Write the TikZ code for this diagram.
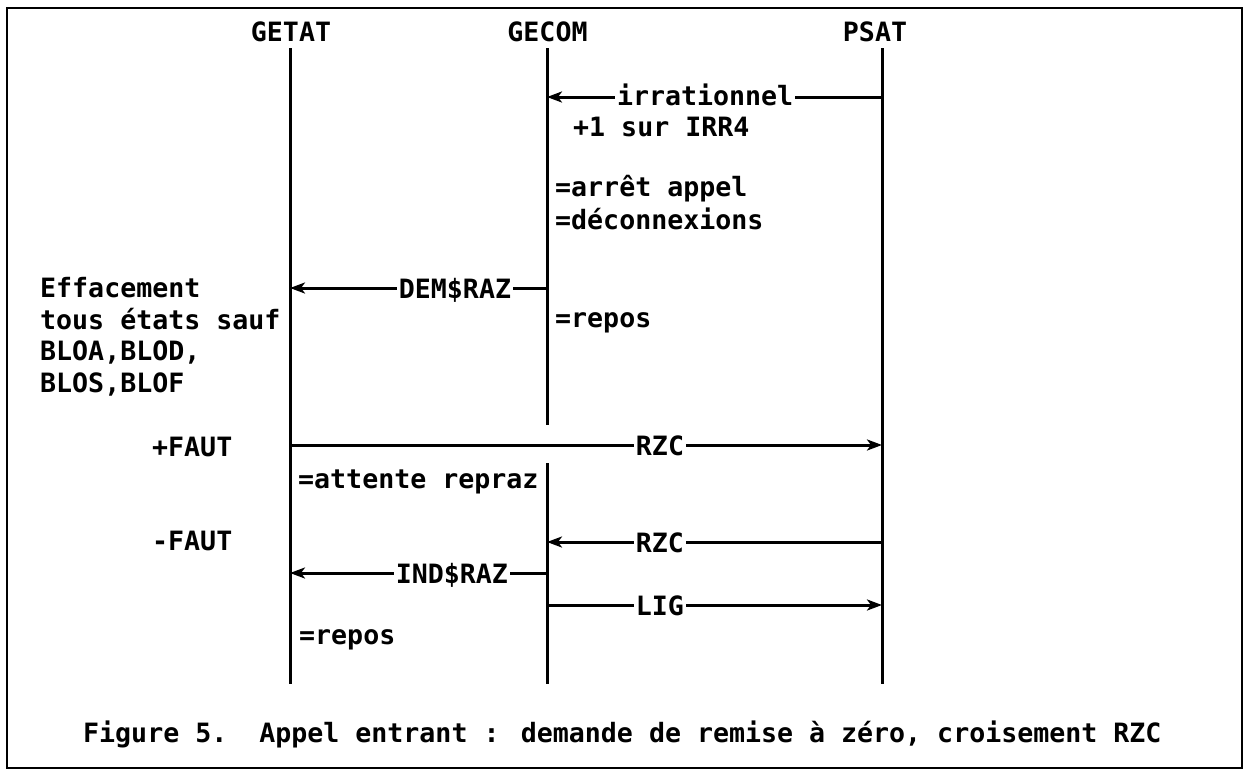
\documentclass[tikz,border=0pt]{standalone}
\usepackage{fontspec}
\setmainfont{DejaVu Sans Mono}
\usetikzlibrary{arrows.meta}
\newcommand\dfont{\fontsize{26.6}{32}\selectfont\bfseries}
\begin{document}
\begin{tikzpicture}[x=1pt,y=-1pt,
  every node/.style={font=\dfont},
  lifeline/.style={line width=3pt},
  msg/.style={line width=3pt,-{Stealth[length=15pt,width=11pt,inset=4pt]}},
  lab/.style={fill=white,inner xsep=2pt,inner ysep=0pt,anchor=base,yshift=-10pt},
  txt/.style={inner sep=0pt,anchor=base west},
  head/.style={inner sep=0pt,anchor=base}]
\useasboundingbox (0,0) rectangle (1245,771);
\draw[line width=2.4pt] (7,8) rectangle (1242,768);

% headers
\node[head] (hgetat) at (291,41) {GETAT};
\node[head] (hgecom) at (547.5,41) {GECOM};
\node[head] (hpsat) at (875,41) {PSAT};

% lifelines
\coordinate (getatT) at (290,48);
\coordinate (getatB) at (290,684);
\coordinate (gecomT) at (547,48);
\coordinate (gecomM1) at (547,425);
\coordinate (gecomM2) at (547,463);
\coordinate (gecomB) at (547,684);
\coordinate (psatT) at (882,48);
\coordinate (psatB) at (882,684);
\draw[lifeline] (getatT) -- (getatB);
\draw[lifeline] (gecomT) -- (gecomM1);
\draw[lifeline] (gecomM2) -- (gecomB);
\draw[lifeline] (psatT) -- (psatB);

% message end points
\coordinate (irrS) at (882,97);   \coordinate (irrE) at (547,97);
\coordinate (demS) at (547,288);  \coordinate (demE) at (290,288);
\coordinate (rzaS) at (290,445);  \coordinate (rzaE) at (882,445);
\coordinate (rzbS) at (882,542);  \coordinate (rzbE) at (547,542);
\coordinate (indS) at (547,573);  \coordinate (indE) at (290,573);
\coordinate (ligS) at (547,605);  \coordinate (ligE) at (882,605);

\draw[msg] (irrS) -- node[lab,pos=0.528,yshift=2pt] (lirr) {irrationnel} (irrE);
\draw[msg] (demS) -- node[lab,pos=0.358] (ldem) {DEM\$RAZ} (demE);
\draw[msg] (rzaS) -- node[lab,pos=0.625] (lrza) {RZC} (rzaE);
\draw[msg] (rzbS) -- node[lab,pos=0.663] (lrzb) {RZC} (rzbE);
\draw[msg] (indS) -- node[lab,pos=0.37] (lind) {IND\$RAZ} (indE);
\draw[msg] (ligS) -- node[lab,pos=0.337] (llig) {LIG} (ligE);

% annotations
\node[txt] (t1) at (573,136) {+1 sur IRR4};
\node[txt] (t2) at (555,196) {=arrêt appel};
\node[txt] (t3) at (555,229) {=déconnexions};
\node[txt] (t4) at (555,327) {=repos};
\node[txt] (e1) at (40,297) {Effacement};
\node[txt] (e2) at (40,329) {tous états sauf};
\node[txt] (e3) at (40,360) {BLOA,BLOD,};
\node[txt] (e4) at (40,392) {BLOS,BLOF};
\node[txt] (f1) at (152,456) {+FAUT};
\node[txt] (f2) at (152,550) {-FAUT};
\node[txt] (t5) at (298,488) {=attente repraz};
\node[txt] (t6) at (299,644) {=repos};

% caption
\node[txt] (cap) at (83,742) {Figure 5.\ \ Appel entrant : demande de remise à zéro, croisement RZC};
\end{tikzpicture}
\end{document}
